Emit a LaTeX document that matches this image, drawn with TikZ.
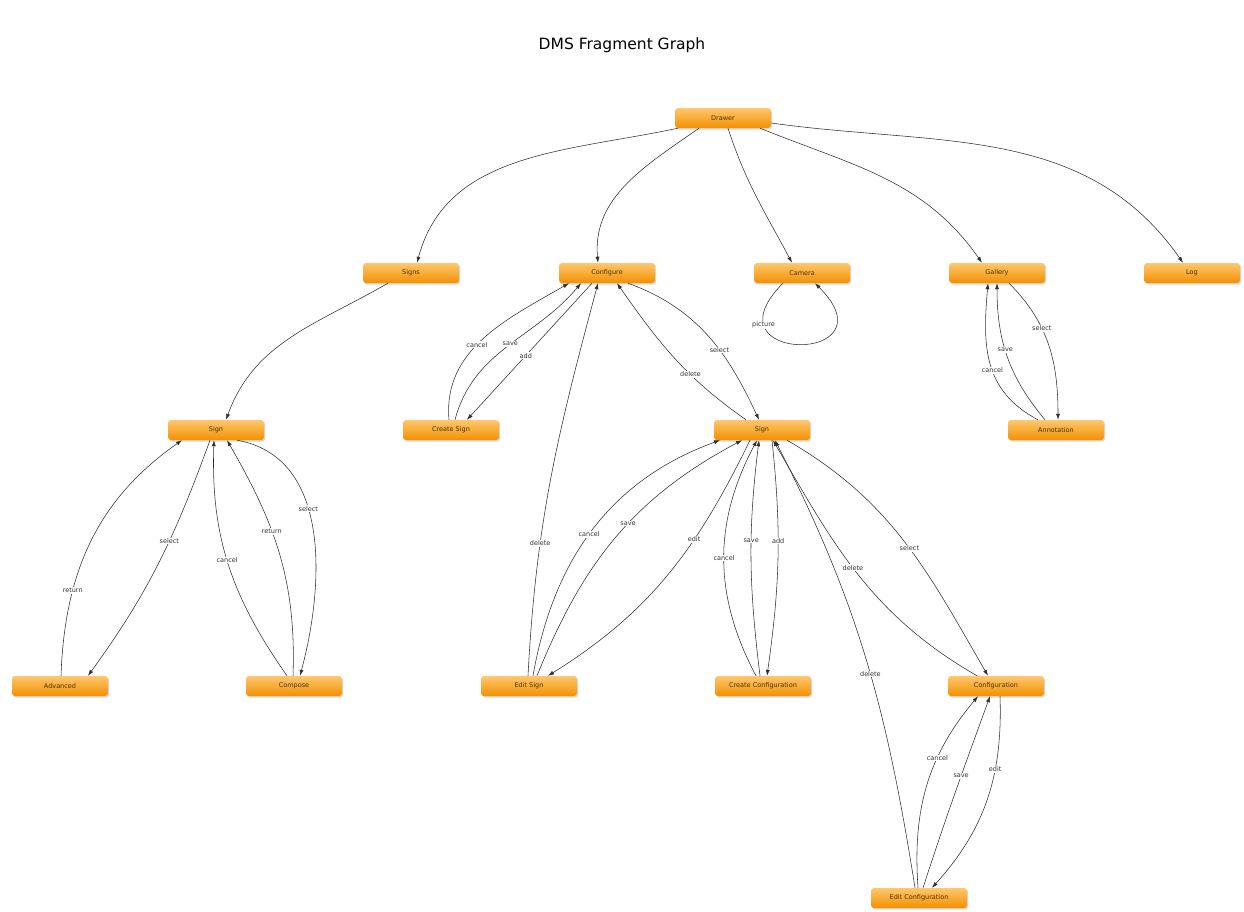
\documentclass[tikz,border=0pt]{standalone}
\usepackage{fontspec}
\setmainfont{DejaVu Sans}
\usetikzlibrary{shadows,arrows.meta}
\definecolor{nodetop}{HTML}{FFC76E}
\definecolor{nodemid}{HTML}{FBA42C}
\definecolor{nodebot}{HTML}{F39000}
\definecolor{nodetext}{HTML}{4A3000}
\definecolor{edgecol}{HTML}{2E2E2E}
\begin{document}
\begin{tikzpicture}[x=1pt,y=1pt,
  state/.style={rounded corners=3pt, minimum width=96pt, minimum height=20pt, inner sep=0pt,
    top color=nodetop, middle color=nodemid, bottom color=nodebot,
    drop shadow={shadow xshift=1.2pt, shadow yshift=-1.5pt, opacity=.3},
    text=nodetext, font=\fontsize{6.5}{7}\selectfont},
  edge/.style={->, >={Latex[length=6pt,width=4pt]}, draw=edgecol, line width=.55pt},
  lbl/.style={fill=white, inner sep=.8pt, text=black!80, font=\fontsize{6.5}{7}\selectfont}]
\useasboundingbox (0,0) rectangle (1244,-911);
\node (title) at (622,-45) {\fontsize{15.5}{18}\selectfont DMS Fragment Graph};
% nodes
\node[state] (drawer) at (723,-118) {Drawer};
\node[state] (signs) at (411,-273) {Signs};
\node[state] (configure) at (607,-273) {Configure};
\node[state] (camera) at (802,-273) {Camera};
\node[state] (gallery) at (997,-273) {Gallery};
\node[state] (log) at (1192,-273) {Log};
\node[state] (signa) at (216,-430) {Sign};
\node[state] (createsign) at (451,-430) {Create Sign};
\node[state] (signb) at (762,-430) {Sign};
\node[state] (annotation) at (1056,-430) {Annotation};
\node[state] (advanced) at (60,-686) {Advanced};
\node[state] (compose) at (294,-686) {Compose};
\node[state] (editsign) at (529,-686) {Edit Sign};
\node[state] (createconf) at (763,-686) {Create Configuration};
\node[state] (configuration) at (996,-686) {Configuration};
\node[state] (editconf) at (919,-898) {Edit Configuration};
% drawer
\draw[edge] ([xshift=-45pt]drawer.south) to[out=192,in=75] ([xshift=6pt]signs.north);
\draw[edge] ([xshift=-24pt]drawer.south) to[out=215,in=95] ([xshift=-9pt]configure.north);
\draw[edge] ([xshift=5pt]drawer.south) to[out=-72,in=118] ([xshift=-10pt]camera.north);
\draw[edge] ([xshift=37pt]drawer.south) to[out=-22,in=125] ([xshift=-15pt]gallery.north);
\draw[edge] ([yshift=-5pt]drawer.east) to[out=-8,in=125] ([xshift=-9pt]log.north);
\draw[edge] ([xshift=-23pt]signs.south) to[out=210,in=70] ([xshift=10pt]signa.north);
% configure
\draw[edge] ([xshift=-2pt]createsign.north) to[out=95,in=210] node[lbl,pos=.45]{cancel} ([xshift=-38pt]configure.south);
\draw[edge] ([xshift=4pt]createsign.north) to[out=75,in=230] node[lbl,pos=.52]{save} ([xshift=-26pt]configure.south);
\draw[edge] ([xshift=-15pt]configure.south) -- node[lbl,pos=.53]{add} ([xshift=16pt]createsign.north);
\draw[edge] ([xshift=-1pt]editsign.north) to[out=87,in=255] node[lbl,pos=.32]{delete} ([xshift=-9pt]configure.south);
\draw[edge] ([xshift=21pt]configure.south) to[out=-20,in=115] node[lbl,pos=.6]{select} ([xshift=-3pt]signb.north);
\draw[edge] ([xshift=-16pt]signb.north) to[out=145,in=-55] node[lbl,pos=.37]{delete} ([xshift=10pt]configure.south);
% camera, gallery
\draw[edge] ([xshift=-19pt]camera.south) to[out=225,in=315,distance=115pt] node[lbl,pos=.22]{picture} ([xshift=13pt]camera.south);
\draw[edge] ([xshift=-18pt]annotation.north) to[out=152,in=265,looseness=1.1] node[lbl,pos=.45]{cancel} ([xshift=-9pt]gallery.south);
\draw[edge] ([xshift=-11pt]annotation.north) to[out=130,in=270] node[lbl,pos=.55]{save} (gallery.south);
\draw[edge] ([xshift=12pt]gallery.south) to[out=-45,in=90] node[lbl,pos=.37]{select} ([xshift=2pt]annotation.north);
% left sign
\draw[edge] ([xshift=1pt]advanced.north) to[out=88,in=215] node[lbl,pos=.3]{return} ([xshift=-34pt]signa.south);
\draw[edge] ([xshift=-6pt]signa.south) to[out=250,in=54] node[lbl,pos=.4]{select} ([xshift=28pt]advanced.north);
\draw[edge] ([xshift=-7pt]compose.north) to[out=125,in=268] node[lbl,pos=.52]{cancel} ([xshift=-2pt]signa.south);
\draw[edge] ([xshift=-1pt]compose.north) to[out=88,in=300] node[lbl,pos=.6]{return} ([xshift=11pt]signa.south);
\draw[edge] ([xshift=21pt]signa.south) to[out=-10,in=75] node[lbl,pos=.42]{select} ([xshift=6pt]compose.north);
% middle sign
\draw[edge] ([xshift=4pt]editsign.north) to[out=80,in=200] node[lbl,pos=.48]{cancel} ([xshift=-42pt]signb.south);
\draw[edge] ([xshift=8pt]editsign.north) to[out=68,in=208] node[lbl,pos=.56]{save} ([xshift=-20pt]signb.south);
\draw[edge] ([xshift=-12pt]signb.south) to[out=244,in=32] node[lbl,pos=.35]{edit} ([xshift=19pt]editsign.north);
\draw[edge] ([xshift=-7pt]createconf.north) to[out=118,in=242] node[lbl,pos=.5]{cancel} ([xshift=-5pt]signb.south);
\draw[edge] ([xshift=-3pt]createconf.north) to[out=97,in=263] node[lbl,pos=.58]{save} ([xshift=-3pt]signb.south);
\draw[edge] ([xshift=10pt]signb.south) to[out=-84,in=82] node[lbl,pos=.42]{add} ([xshift=4pt]createconf.north);
\draw[edge] ([xshift=-19pt]configuration.north) to[out=150,in=-60] node[lbl,pos=.53]{delete} ([xshift=11pt]signb.south);
\draw[edge] ([xshift=25pt]signb.south) to[out=-30,in=120] node[lbl,pos=.53]{select} ([xshift=-8pt]configuration.north);
\draw[edge] ([xshift=-4pt]editconf.north) to[out=99,in=297] node[lbl,pos=.46]{delete} ([xshift=13pt]signb.south);
% configuration
\draw[edge] ([xshift=-1pt]editconf.north) to[out=94,in=230] node[lbl,pos=.65]{cancel} ([xshift=-18pt]configuration.south);
\draw[edge] ([xshift=4pt]editconf.north) to[out=72,in=250] node[lbl,pos=.59]{save} ([xshift=-6pt]configuration.south);
\draw[edge] ([xshift=4pt]configuration.south) to[out=-88,in=48] node[lbl,pos=.34]{edit} ([xshift=13pt]editconf.north);
\end{tikzpicture}
\end{document}
